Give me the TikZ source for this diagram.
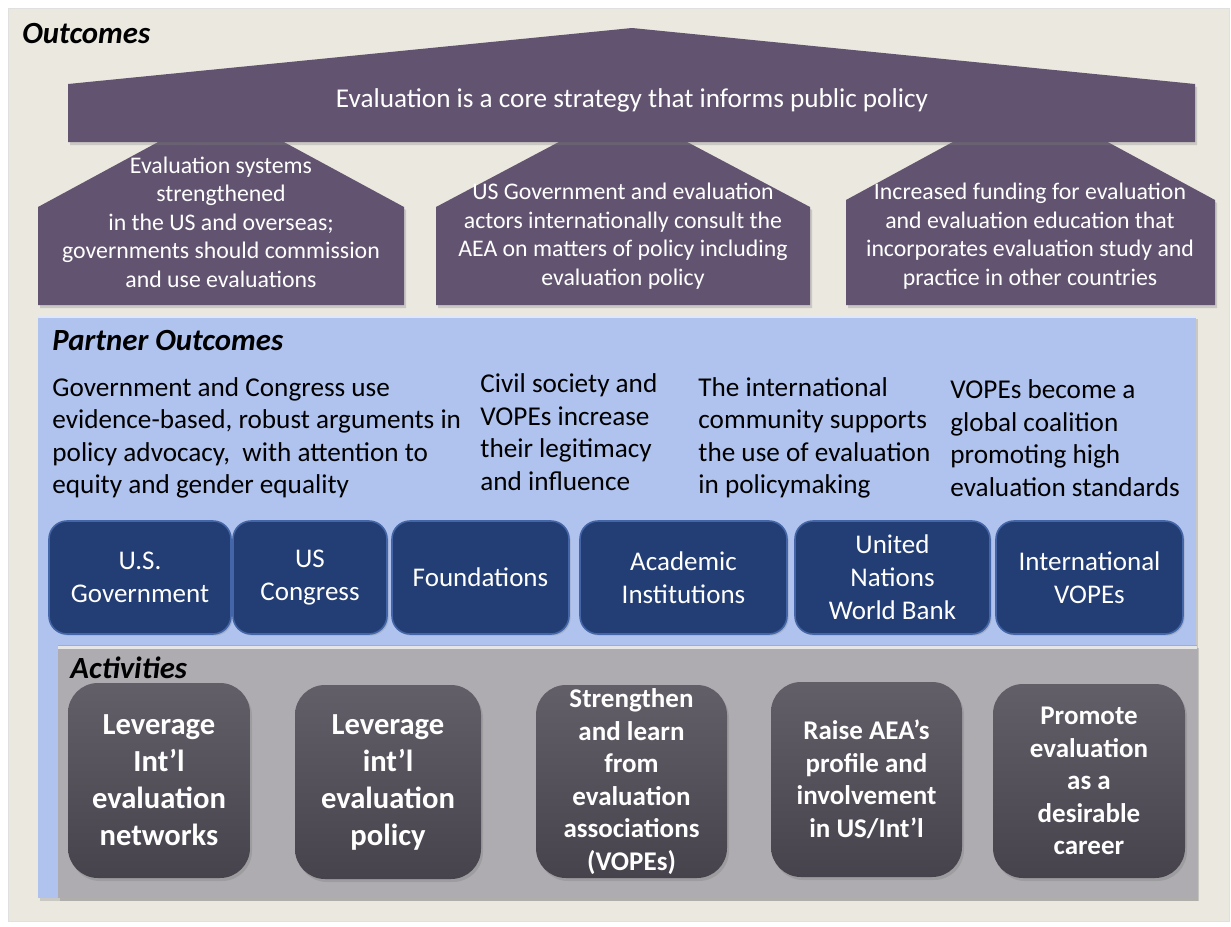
\documentclass[tikz,border=0pt]{standalone}
\usepackage{fontspec}
\setmainfont{Carlito}
\usetikzlibrary{shadows}

\definecolor{frameback}{HTML}{EBE8E0}
\definecolor{plum}{HTML}{625470}
\definecolor{partnerback}{HTML}{B0C3EE}
\definecolor{partnerbox}{HTML}{233E74}
\definecolor{partnerline}{HTML}{4466A8}
\definecolor{activityback}{HTML}{AEACB1}
\definecolor{activitytop}{HTML}{635F68}
\definecolor{activitybot}{HTML}{46434C}

\begin{document}
\begin{tikzpicture}[x=0.5pt,y=-0.5pt,
    heading/.style={anchor=west,inner sep=0pt,font=\fontsize{15.4}{18}\selectfont\bfseries\itshape},
    house/.style={fill=plum,drop shadow={shadow xshift=1pt,shadow yshift=-1.5pt,opacity=.3}},
    housetext/.style={text=white,align=center,inner sep=0pt,font=\fontsize{11.9}{14.25}\selectfont},
    partnertext/.style={anchor=west,align=left,inner sep=0pt,font=\fontsize{13.6}{16.25}\selectfont},
    partner/.style={draw=partnerline,line width=.8pt,fill=partnerbox,rounded corners=9pt,text=white,
        align=center,minimum height=56.5pt,inner sep=0pt,font=\fontsize{13.5}{16.5}\selectfont,
        drop shadow={shadow xshift=.8pt,shadow yshift=-.8pt,opacity=.3}},
    activity/.style={top color=activitytop,bottom color=activitybot,rounded corners=15pt,text=white,
        align=center,inner sep=0pt,font=\fontsize{13.5}{16.25}\selectfont\bfseries,
        drop shadow={shadow xshift=1pt,shadow yshift=-1.5pt,opacity=.35}}]
    \useasboundingbox (0,0) rectangle (1231,926);
    \fill[white] (0,0) rectangle (1231,926);

    % outer frame
    \filldraw[fill=frameback,draw=black!12] (8,8) rectangle (1229,921);
    \node[heading] (outcomes) at (22,34) {Outcomes};

    % lower houses, then roof
    \fill[house] (38,305) -- (38,207) -- (221,108) -- (404,207) -- (404,305) -- cycle;
    \fill[house] (436,305) -- (436,207) -- (623,108) -- (810,207) -- (810,305) -- cycle;
    \fill[house] (846,305) -- (846,200) -- (1030,100) -- (1215,200) -- (1215,305) -- cycle;
    \fill[house] (68,142) -- (68,84) -- (632,28) -- (1195,84) -- (1195,142) -- cycle;

    \node[text=white,inner sep=0pt,font=\fontsize{13.6}{16}\selectfont] (core) at (632,100)
        {Evaluation is a core strategy that informs public policy};
    \node[housetext] (systems) at (221,222) {Evaluation systems\\strengthened\\in the US and overseas;\\governments should commission\\and use evaluations};
    \node[housetext] (consult) at (623,236) {US Government and evaluation\\actors internationally consult the\\AEA on matters of policy including\\evaluation policy};
    \node[housetext] (funding) at (1030,236) {Increased funding for evaluation\\and evaluation education that\\incorporates evaluation study and\\practice in other countries};

    % partner outcomes
    \fill[partnerback,drop shadow={shadow xshift=1pt,shadow yshift=-1.5pt,opacity=.3}] (38,316) rectangle (1196,898);
    \draw[white,opacity=.6,line width=1pt] (38,317) -- (1196,317);
    \node[heading] (partners) at (52,341) {Partner Outcomes};

    \node[partnertext] (congress use) at (52,438) {Government and Congress use\\evidence-based,\ robust arguments in\\policy advocacy,\ \ with attention to\\equity and gender equality};
    \node[partnertext] (civil) at (480,432) {Civil society and\\VOPEs increase\\their legitimacy\\and influence};
    \node[partnertext] (community) at (698,438) {The international\\community supports\\the use of evaluation\\in policymaking};
    \node[partnertext] (coalition) at (950,438) {VOPEs become a\\global coalition\\promoting high\\evaluation standards};

    \foreach \cx/\w/\name/\txt in {140/91/usgov/{U.S.\\Government},
                                  310/77/uscongress/{US\\Congress},
                                  480.5/88.5/foundations/{Foundations},
                                  683.5/103.5/academic/{Academic\\Institutions},
                                  892.5/97.5/un/{United\\Nations\\World Bank},
                                  1089.5/93.5/vopes/{International\\VOPEs}}
        \node[partner,minimum width=\w pt] (\name) at (\cx,577.5) {\txt};

    % activities
    \fill[activityback,drop shadow={shadow xshift=1pt,shadow yshift=-1.5pt,opacity=.35}] (58,645) rectangle (1197,898);
    \draw[white,opacity=.7,line width=1.5pt] (58,647) -- (1197,647);
    \node[heading] (activities) at (70,668) {Activities};

    \node[activity,minimum width=91pt,minimum height=97.5pt,font=\fontsize{15.3}{18.5}\selectfont\bfseries] (networks) at (159,780.5) {Leverage\\Int’l\\evaluation\\networks};
    \node[activity,minimum width=93pt,minimum height=97pt,font=\fontsize{15.3}{18.5}\selectfont\bfseries] (policy) at (388,782) {Leverage\\int’l\\evaluation\\policy};
    \node[activity,minimum width=95.5pt,minimum height=96.5pt] (strengthen) at (631.5,781.5) {Strengthen\\and learn\\from\\evaluation\\associations\\(VOPEs)};
    \node[activity,minimum width=95.5pt,minimum height=97.5pt] (profile) at (866.5,779.5) {Raise AEA’s\\profile and\\involvement\\in US/Int’l};
    \node[activity,minimum width=96pt,minimum height=97pt] (career) at (1089,781) {Promote\\evaluation\\as a\\desirable\\career};
\end{tikzpicture}
\end{document}
